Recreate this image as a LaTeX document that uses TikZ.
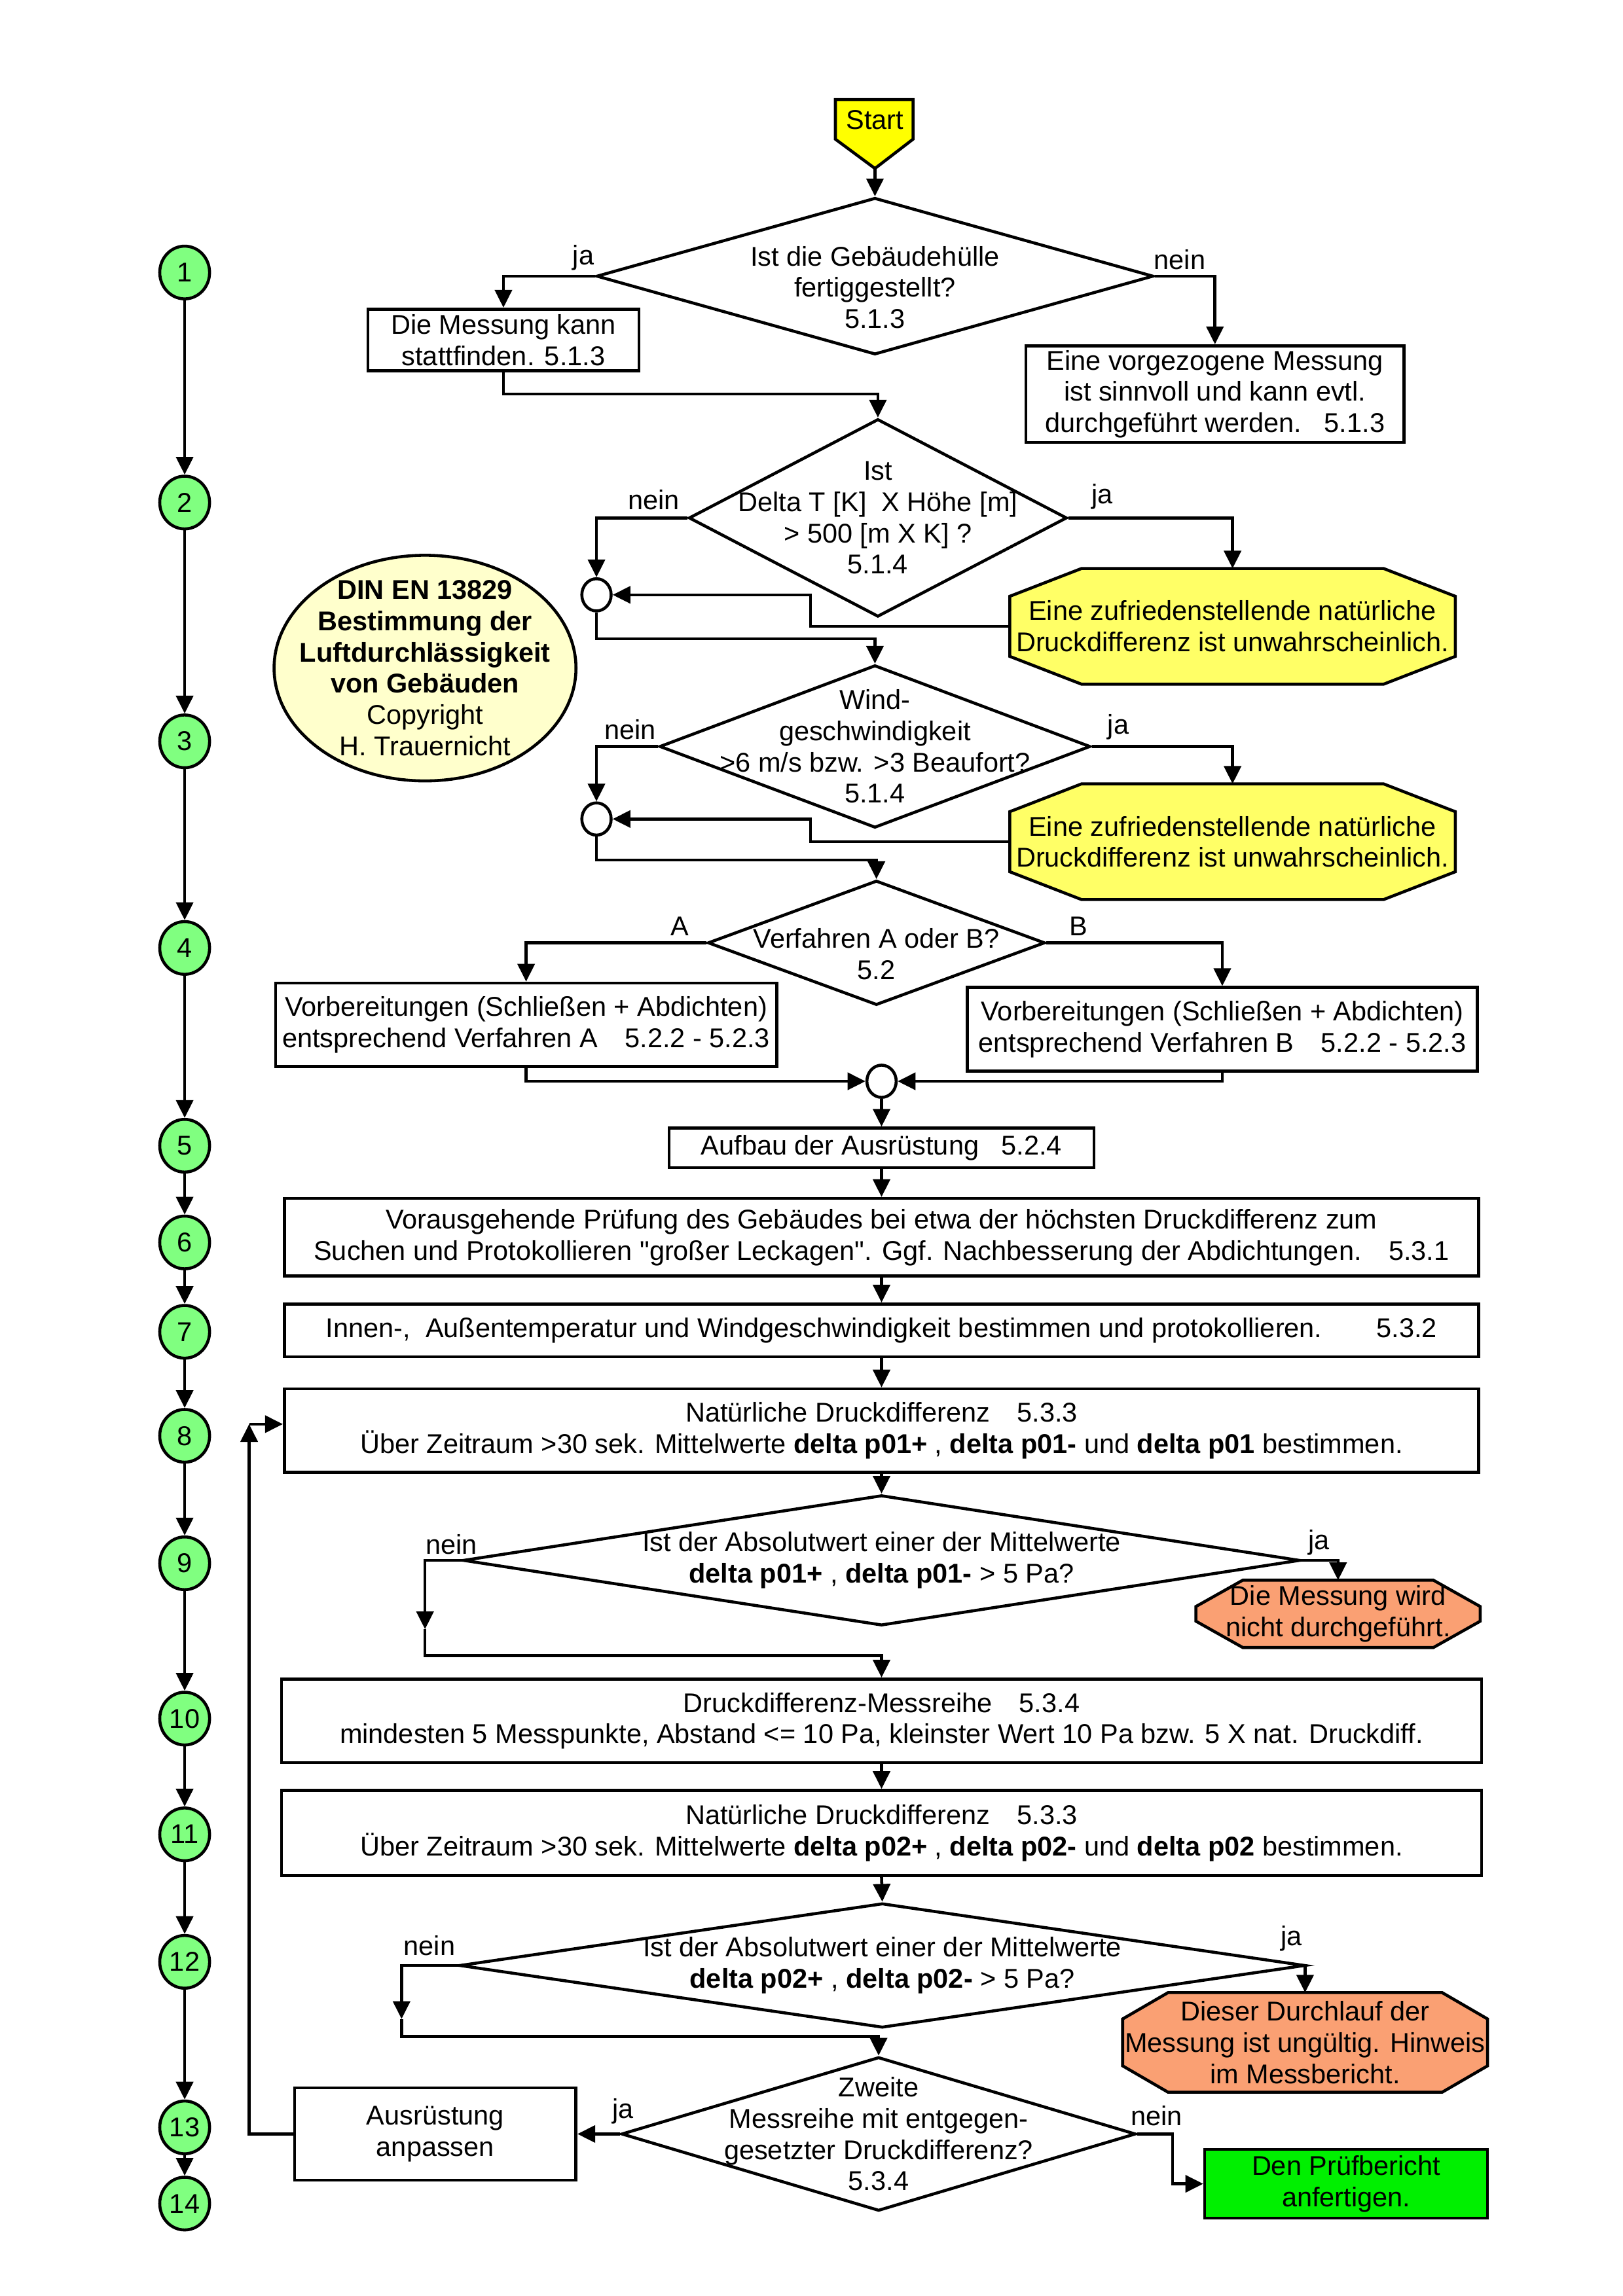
\documentclass[tikz,border=0pt]{standalone}
\usepackage{fontspec}
\setmainfont{Liberation Sans}
\newfontfamily\quotefont{Liberation Sans}
\usetikzlibrary{arrows.meta,shapes.geometric}

\definecolor{startyellow}{RGB}{255,255,0}
\definecolor{warnyellow}{RGB}{255,255,102}
\definecolor{notecream}{RGB}{255,255,204}
\definecolor{salmon}{RGB}{250,160,115}
\definecolor{reportgreen}{RGB}{0,240,0}
\definecolor{numgreen}{RGB}{128,255,128}

\begin{document}
\begin{tikzpicture}[x=0.018963cm, y=-0.018963cm, line width=1.1pt,
    >={Triangle[length=2.3mm, width=2.2mm]},
    every node/.style={font=\fontsize{10}{11.5}\selectfont},
    box/.style={draw, rectangle, align=center, inner sep=0pt},
    query/.style={draw, diamond, align=center, inner sep=-12pt},
    alert/.style={rectangle, align=center, inner sep=0pt, outer sep=0pt},
    junction/.style={draw, ellipse, fill=white, inner sep=0pt, minimum width=20*\px, minimum height=22*\px},
    numcircle/.style={draw, ellipse, fill=numgreen, inner sep=0pt, minimum width=34*\px, minimum height=36*\px}]
  \def \px {0.018963cm} % one pixel of the layout grid

  \useasboundingbox (0,0) rectangle (1107.4,1567.1);

  % numbered steps on the left
  \foreach \s/\y in {1/186, 2/343, 3/506, 4/647, 5/782, 6/848, 7/909, 8/980, 9/1067, 10/1173, 11/1252, 12/1339, 13/1452, 14/1504}
  {
    \node[numcircle] (num\s) at (126,\y) {\s};
  }
  \foreach \s in {1,...,13}
  {
    \pgfmathtruncatemacro \nxt {\s + 1}
    \draw[->] (num\s) -- (num\nxt);
  }

  % start
  \draw[fill=startyellow] (570,68) -- (623,68) -- (623,95) -- (597,115) -- (570,95) -- cycle;
  \node (start) at (597,82) {Start};
  \coordinate (starttip) at (597,115);

  % octagons: centre x / centre y / width / height / chamfer x / chamfer y / colour
  \foreach \x/\y/\w/\h/\cx/\cy/\col in {841/427.5/304/79/49/19/warnyellow, 841/574.5/304/79/49/19/warnyellow,
      913/1101.5/194/46/32/18/salmon, 890.5/1394/249/68/31/18/salmon}
  {
    \draw[fill=\col] ({\x-\w/2+\cx},{\y-\h/2}) -- ({\x+\w/2-\cx},{\y-\h/2}) -- ({\x+\w/2},{\y-\h/2+\cy})
      -- ({\x+\w/2},{\y+\h/2-\cy}) -- ({\x+\w/2-\cx},{\y+\h/2}) -- ({\x-\w/2+\cx},{\y+\h/2})
      -- ({\x-\w/2},{\y+\h/2-\cy}) -- ({\x-\w/2},{\y-\h/2+\cy}) -- cycle;
  }

  \node[draw, ellipse, fill=notecream, inner sep=-12pt, align=center, minimum width=206*\px, minimum height=154*\px] (note) at (290,456)
    {\textbf{DIN EN 13829}\\\textbf{Bestimmung der}\\\textbf{Luftdurchlässigkeit}\\\textbf{von Gebäuden}\\Copyright\\H. Trauernicht};

  % 5.1.3
  \node[query, aspect=3.55, minimum width=380*\px, minimum height=107*\px] (huelle) at (597,188.5)
    {\raisebox{-7.9pt}[0pt][0pt]{\begin{tabular}{@{}c@{}}Ist die Gebäudehülle\\fertiggestellt?\\5.1.3\end{tabular}}};
  \node[box, minimum width=185*\px, minimum height=42*\px] (messkann) at (343.5,232)
    {Die Messung kann\\stattfinden. 5.1.3};
  \node[box, minimum width=258*\px, minimum height=66*\px] (vorgezogen) at (829,269)
    {Eine vorgezogene Messung\\ist sinnvoll und kann evtl.\\durchgeführt werden.\ \ \ 5.1.3};

  % 5.1.4
  \node[query, aspect=1.91, minimum width=258*\px, minimum height=135*\px] (deltat) at (599,353.5)
    {Ist\\Delta T [K]\ \ X Höhe [m]\\> 500 [m X K] ?\\5.1.4};
  \node[alert, minimum width=304*\px, minimum height=79*\px] (unwahr1) at (841,427.5)
    {Eine zufriedenstellende natürliche\\Druckdifferenz ist unwahrscheinlich.};
  \node[junction] (join1) at (407,406) {};

  \node[query, aspect=2.65, minimum width=294*\px, minimum height=111*\px] (wind) at (597,509.5)
    {Wind-\\geschwindigkeit\\>6 m/s bzw. >3 Beaufort?\\5.1.4};
  \node[alert, minimum width=304*\px, minimum height=79*\px] (unwahr2) at (841,574.5)
    {Eine zufriedenstellende natürliche\\Druckdifferenz ist unwahrscheinlich.};
  \node[junction] (join2) at (407,559) {};

  % 5.2
  \node[query, aspect=2.71, minimum width=230*\px, minimum height=85*\px] (verfahren) at (598,643.5)
    {\raisebox{-7.9pt}[0pt][0pt]{\begin{tabular}{@{}c@{}}Verfahren A oder B?\\5.2\end{tabular}}};
  \node[box, minimum width=342*\px, minimum height=57*\px] (vorbA) at (359,699.5)
    {Vorbereitungen (Schließen + Abdichten)\\entsprechend Verfahren A\quad 5.2.2 - 5.2.3};
  \node[box, minimum width=348*\px, minimum height=57*\px] (vorbB) at (834,702.5)
    {Vorbereitungen (Schließen + Abdichten)\\entsprechend Verfahren B\quad 5.2.2 - 5.2.3};
  \node[junction] (join3) at (601.5,738) {};

  \node[box, minimum width=290*\px, minimum height=27*\px] (aufbau) at (601.5,783.5)
    {Aufbau der Ausrüstung\ \ \ 5.2.4};

  % 5.3
  \node[box, minimum width=815*\px, minimum height=53*\px] (pruefung) at (601.5,844.5)
    {Vorausgehende Prüfung des Gebäudes bei etwa der höchsten Druckdifferenz zum\\Suchen und Protokollieren {\quotefont"}großer Leckagen{\quotefont"}. Ggf. Nachbesserung der Abdichtungen.\quad 5.3.1};
  \node[box, minimum width=815*\px, minimum height=36*\px] (temperatur) at (601.5,908)
    {Innen-,\ \ Außentemperatur und Windgeschwindigkeit bestimmen und protokollieren.\qquad 5.3.2};
  \node[box, minimum width=815*\px, minimum height=57*\px] (natdruck1) at (601.5,976.5)
    {Natürliche Druckdifferenz\quad 5.3.3\\Über Zeitraum >30 sek. Mittelwerte \textbf{delta p01+} , \textbf{delta p01-} und \textbf{delta p01} bestimmen.};

  \node[query, aspect=6.42, minimum width=571*\px, minimum height=89*\px] (abs1) at (601.5,1065)
    {Ist der Absolutwert einer der Mittelwerte\\\textbf{delta p01+} , \textbf{delta p01-} > 5 Pa?};
  \node[alert, minimum width=194*\px, minimum height=46*\px] (nichtdurch) at (913,1101.5)
    {Die Messung wird\\nicht durchgeführt.};
  \coordinate (nein9) at (290,1112);

  \node[box, minimum width=819*\px, minimum height=57*\px] (messreihe) at (601.5,1174.5)
    {Druckdifferenz-Messreihe\quad 5.3.4\\mindesten 5 Messpunkte, Abstand <= 10 Pa, kleinster Wert 10 Pa bzw. 5 X nat. Druckdiff.};
  \node[box, minimum width=819*\px, minimum height=58*\px] (natdruck2) at (601.5,1251)
    {Natürliche Druckdifferenz\quad 5.3.3\\Über Zeitraum >30 sek. Mittelwerte \textbf{delta p02+} , \textbf{delta p02-} und \textbf{delta p02} bestimmen.};

  \node[query, aspect=6.79, minimum width=577*\px, minimum height=85*\px] (abs2) at (602,1341.5)
    {Ist der Absolutwert einer der Mittelwerte\\\textbf{delta p02+} , \textbf{delta p02-} > 5 Pa?};
  \node[alert, minimum width=249*\px, minimum height=68*\px] (ungueltig) at (890.5,1394)
    {Dieser Durchlauf der\\Messung ist ungültig. Hinweis\\im Messbericht.};
  \coordinate (nein12) at (274,1378);

  \node[query, aspect=3.34, minimum width=351*\px, minimum height=105*\px] (zweite) at (599.5,1456.5)
    {Zweite\\Messreihe mit entgegen-\\gesetzter Druckdifferenz?\\5.3.4};
  \node[box, minimum width=192*\px, minimum height=63*\px] (anpassen) at (297,1456.5)
    {Ausrüstung\\anpassen};
  \node[box, fill=reportgreen, minimum width=193*\px, minimum height=47*\px] (bericht) at (918.5,1490.5)
    {Den Prüfbericht\\anfertigen.};
  \coordinate (back8) at (170,972);

  % ja / nein
  \node (ja1) at (398,176) {ja};
  \node (nein1) at (805,177) {nein};
  \node (nein2) at (446,341) {nein};
  \node (ja2) at (752,339) {ja};
  \node (nein3) at (430,498) {nein};
  \node (ja3) at (763,496) {ja};
  \node (wegA) at (464,632) {A};
  \node (wegB) at (736,632) {B};
  \node (nein9l) at (308,1054) {nein};
  \node (ja9) at (900,1053) {ja};
  \node (nein12l) at (293,1328) {nein};
  \node (ja12) at (881,1323) {ja};
  \node (ja13) at (425,1441) {ja};
  \node (nein13) at (789,1444) {nein};

  % connectors
  \draw[->] (starttip) -- (huelle.north);
  \draw[->] (huelle.west) -| (messkann.north);
  \draw[->] (huelle.east) -| (vorgezogen.north);
  \draw[->] (messkann.south) -- ++(0,15) -| (deltat.north);

  \draw[->] (deltat.west) -| (join1.north);
  \draw[->] (deltat.east) -| (unwahr1.north);
  \draw[->] (unwahr1.west) -- ++(-136,0) |- (join1.east);
  \draw[->] (join1.south) -- ++(0,18) -| (wind.north);

  \draw[->] (wind.west) -| (join2.north);
  \draw[->] (wind.east) -| (unwahr2.north);
  \draw[->] (unwahr2.west) -- ++(-136,0) |- (join2.east);
  \draw[->] (join2.south) -- ++(0,16) -| (verfahren.north);

  \draw[->] (verfahren.west) -| (vorbA.north);
  \draw[->] (verfahren.east) -| (vorbB.north);
  \draw[->] (vorbA.south) |- (join3.west);
  \draw[->] (vorbB.south) |- (join3.east);
  \draw[->] (join3.south) -- (aufbau.north);

  \draw[->] (aufbau.south) -- (pruefung.north);
  \draw[->] (pruefung.south) -- (temperatur.north);
  \draw[->] (temperatur.south) -- (natdruck1.north);
  \draw[->] (natdruck1.south) -- (abs1.north);

  \draw[->] (abs1.west) -| (nein9);
  \draw[->] (nein9) -- ++(0,18) -| (messreihe.north);
  \draw[->] (abs1.east) -| (nichtdurch.north);
  \draw[->] (messreihe.south) -- (natdruck2.north);
  \draw[->] (natdruck2.south) -- (abs2.north);

  \draw[->] (abs2.west) -| (nein12);
  \draw[->] (nein12) -- ++(0,12) -| (zweite.north);
  \draw[->] (abs2.east) -| (ungueltig.north);

  \draw[->] (zweite.west) -- (anpassen.east);
  \draw[->] (anpassen.west) -| (back8);
  \draw[->] (back8) -- (back8 -| natdruck1.west);
  \draw[->] (zweite.east) -- ++(24,0) |- (bericht.west);
\end{tikzpicture}
\end{document}
